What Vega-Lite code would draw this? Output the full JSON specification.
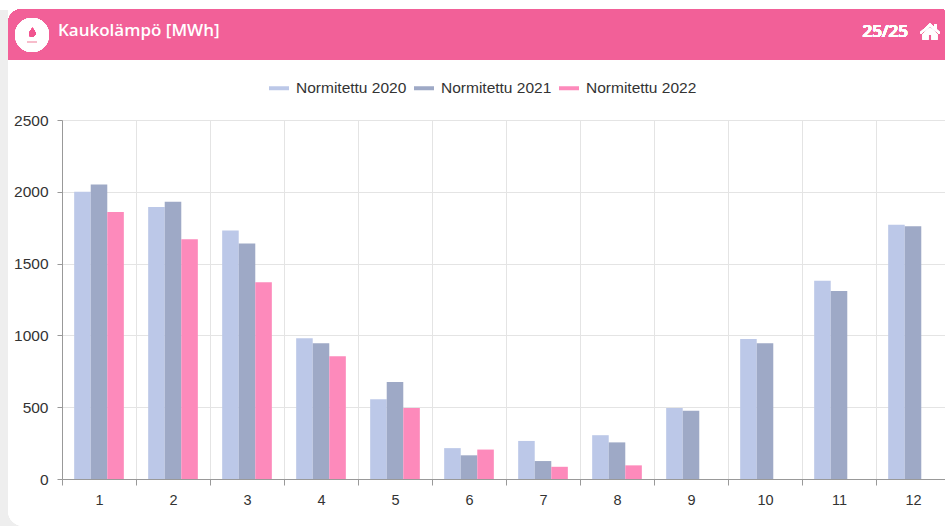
{
"$schema":"https://vega.github.io/schema/vega-lite/v6.json",
"width":883,"height":359,
"autosize":{"type":"none"},
"padding":{"left":62,"top":120,"right":0,"bottom":47},
"background":"#ffffff",
"title":{"text":"Kaukolämpö [MWh]","anchor":"start","frame":"group","dx":-4,"offset":-31,"color":"#ffffff","fontSize":17,"fontWeight":600,"font":"Open Sans"},
"config":{"view":{"stroke":null},"font":"Liberation Sans"},
"data":{"name":"months","values":[
{"kk":"1","sarja":"Normitettu 2020","mwh":2000},{"kk":"1","sarja":"Normitettu 2021","mwh":2050},{"kk":"1","sarja":"Normitettu 2022","mwh":1860},
{"kk":"2","sarja":"Normitettu 2020","mwh":1895},{"kk":"2","sarja":"Normitettu 2021","mwh":1930},{"kk":"2","sarja":"Normitettu 2022","mwh":1670},
{"kk":"3","sarja":"Normitettu 2020","mwh":1730},{"kk":"3","sarja":"Normitettu 2021","mwh":1640},{"kk":"3","sarja":"Normitettu 2022","mwh":1370},
{"kk":"4","sarja":"Normitettu 2020","mwh":980},{"kk":"4","sarja":"Normitettu 2021","mwh":945},{"kk":"4","sarja":"Normitettu 2022","mwh":855},
{"kk":"5","sarja":"Normitettu 2020","mwh":555},{"kk":"5","sarja":"Normitettu 2021","mwh":675},{"kk":"5","sarja":"Normitettu 2022","mwh":495},
{"kk":"6","sarja":"Normitettu 2020","mwh":215},{"kk":"6","sarja":"Normitettu 2021","mwh":165},{"kk":"6","sarja":"Normitettu 2022","mwh":205},
{"kk":"7","sarja":"Normitettu 2020","mwh":265},{"kk":"7","sarja":"Normitettu 2021","mwh":125},{"kk":"7","sarja":"Normitettu 2022","mwh":85},
{"kk":"8","sarja":"Normitettu 2020","mwh":305},{"kk":"8","sarja":"Normitettu 2021","mwh":255},{"kk":"8","sarja":"Normitettu 2022","mwh":95},
{"kk":"9","sarja":"Normitettu 2020","mwh":495},{"kk":"9","sarja":"Normitettu 2021","mwh":475},
{"kk":"10","sarja":"Normitettu 2020","mwh":975},{"kk":"10","sarja":"Normitettu 2021","mwh":945},
{"kk":"11","sarja":"Normitettu 2020","mwh":1380},{"kk":"11","sarja":"Normitettu 2021","mwh":1310},
{"kk":"12","sarja":"Normitettu 2020","mwh":1770},{"kk":"12","sarja":"Normitettu 2021","mwh":1760}
]},
"resolve":{"scale":{"x":"independent","y":"independent"}},
"layer":[
{"layer":[
{"mark":{"type":"rect","color":"#eeeeee","clip":false},
 "encoding":{"x":{"datum":0,"type":"quantitative","axis":null,"scale":{"domain":[0,945],"range":[-62,883],"nice":false}},"x2":{"datum":8},
 "y":{"datum":10,"type":"quantitative","axis":null,"scale":{"domain":[0,526],"range":[-120,406],"nice":false}},"y2":{"datum":526}}},
{"mark":{"type":"rect","color":"#eeeeee","clip":false},
 "encoding":{"x":{"datum":8,"type":"quantitative"},"x2":{"datum":24},"y":{"datum":508,"type":"quantitative"},"y2":{"datum":526}}},
{"mark":{"type":"rect","color":"#ffffff","clip":false,"cornerRadiusBottomLeft":16},
 "encoding":{"x":{"datum":8,"type":"quantitative"},"x2":{"datum":40},"y":{"datum":495,"type":"quantitative"},"y2":{"datum":526}}},
{"mark":{"type":"rect","color":"#f26098","clip":false,"cornerRadiusTopLeft":14,"cornerRadiusTopRight":4},
 "encoding":{"x":{"datum":8,"type":"quantitative"},"x2":{"datum":945},"y":{"datum":9,"type":"quantitative"},"y2":{"datum":59.5}}},
{"mark":{"type":"point","filled":true,"shape":"circle","color":"#ffffff","opacity":1,"size":1156,"clip":false},
 "encoding":{"x":{"datum":32,"type":"quantitative"},"y":{"datum":35,"type":"quantitative"}}},
{"mark":{"type":"point","filled":true,"color":"#f0558f","opacity":1,"size":110,"clip":false,"shape":"M0.05,-1 C0.5,-0.5 0.75,-0.1 0.6,0.3 C0.45,0.65 0.2,0.75 -0.05,0.75 C-0.4,0.75 -0.65,0.45 -0.55,0.05 C-0.45,-0.3 -0.1,-0.4 0.05,-1 Z"},
 "encoding":{"x":{"datum":32,"type":"quantitative"},"y":{"datum":33,"type":"quantitative"}}},
{"mark":{"type":"rect","color":"#f7bccb","clip":false},
 "encoding":{"x":{"datum":27,"type":"quantitative"},"x2":{"datum":37},"y":{"datum":41,"type":"quantitative"},"y2":{"datum":42.5}}},
{"mark":{"type":"text","color":"#ffffff","align":"right","baseline":"middle","font":"Open Sans","fontSize":17,"fontWeight":600,"clip":false},
 "encoding":{"text":{"datum":"25/25"},"x":{"datum":908,"type":"quantitative"},"y":{"datum":32,"type":"quantitative"}}},
{"mark":{"type":"point","filled":true,"color":"#ffffff","opacity":1,"size":400,"clip":false,"shape":"M0,-0.85 L0.45,-0.45 L0.45,-0.75 L0.65,-0.75 L0.65,-0.27 L1,0.05 L0.88,0.17 L0,-0.6 L-0.88,0.17 L-1,0.05 Z M0,-0.42 L0.72,0.2 L0.72,0.75 L0.18,0.75 L0.18,0.25 L-0.18,0.25 L-0.18,0.75 L-0.72,0.75 L-0.72,0.2 Z"},
 "encoding":{"x":{"datum":930,"type":"quantitative"},"y":{"datum":32,"type":"quantitative"}}}
]},
{"mark":{"type":"bar"},
 "encoding":{
 "x":{"field":"kk","type":"nominal","sort":["1","2","3","4","5","6","7","8","9","10","11","12"],
   "scale":{"range":[0,888],"paddingInner":0,"paddingOuter":0},
   "axis":{"orient":"bottom","title":null,"labelAngle":0,"tickBand":"extent","grid":true,"gridColor":"#e4e4e4","gridWidth":1,"domainColor":"#999999","tickColor":"#999999","tickSize":6,"labelColor":"#333333","labelFontSize":14.5,"labelPadding":8}},
 "xOffset":{"field":"sarja","type":"nominal","scale":{"paddingInner":0,"paddingOuter":0.735}},
 "y":{"field":"mwh","type":"quantitative","scale":{"domain":[0,2500],"nice":false},
   "axis":{"orient":"left","title":null,"tickCount":5,"format":"d","grid":true,"gridColor":"#e4e4e4","gridWidth":1,"domainColor":"#999999","tickColor":"#999999","tickSize":5,"labelColor":"#333333","labelFontSize":15.5,"labelPadding":9}},
 "color":{"field":"sarja","type":"nominal",
   "scale":{"domain":["Normitettu 2020","Normitettu 2021","Normitettu 2022"],"range":["#bcc8e8","#9ea9c6","#fd8abb"]},
   "legend":{"title":null,"orient":"none","legendX":206,"legendY":-43,"direction":"horizontal","columns":3,"columnPadding":6,"labelFontSize":15.5,"labelColor":"#333333","labelOffset":6,"symbolSize":400,"symbolOpacity":1,"symbolType":"M-1,-0.2 L1,-0.2 L1,0.2 L-1,0.2 Z"}}
 }}
]
}
